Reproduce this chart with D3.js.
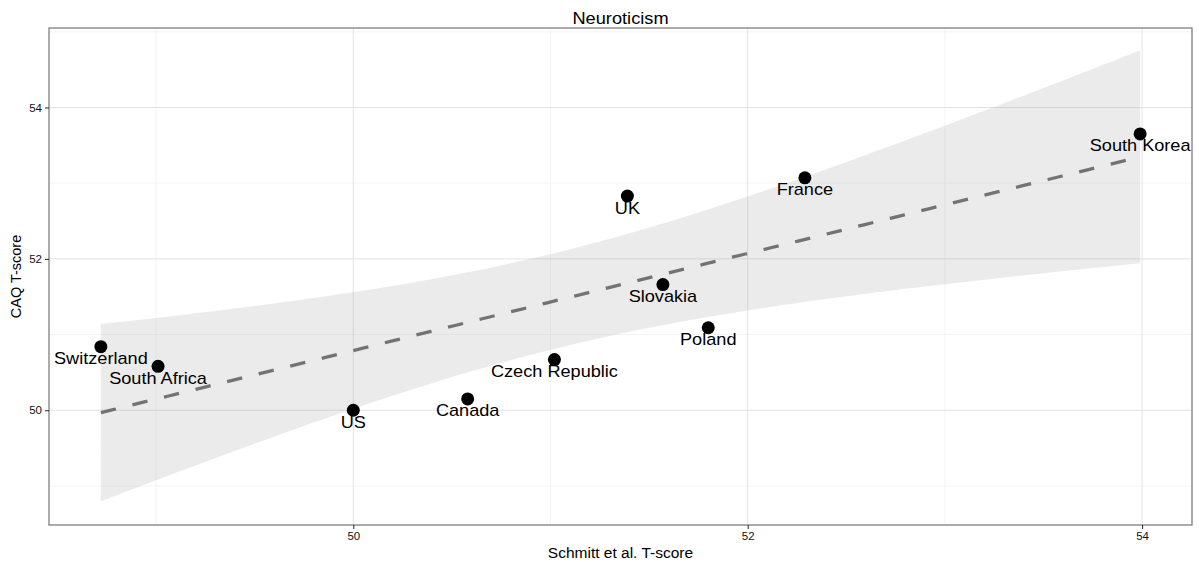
<!DOCTYPE html>
<html><head><meta charset="utf-8">
<script src="https://cdn.jsdelivr.net/npm/d3@7"></script>
<style>body{margin:0;background:#fff;} text{font-family:"Liberation Sans",Arial,sans-serif;}</style>
</head><body><svg id="c" width="1199" height="562"></svg>
<script>
const countries = ["Switzerland","South Africa","US","Canada","Czech Republic","UK","Slovakia","Poland","France","South Korea"];
const schmitt = [48.72,49.01,50.00,50.58,51.02,51.39,51.57,51.80,52.29,53.99];
const caq = [50.84,50.58,50.00,50.15,50.67,52.83,51.66,51.09,53.07,53.65];
const xTicks = [50,52,54];
const yTicks = [50,52,54];
const xMinor = [49,51,53];
const yMinor = [49,51,53,55];

const svg = d3.select("#c");
const L=49,R=1192,T=28,B=525;
const x = d3.scaleLinear().domain([48.457,54.253]).range([L,R]);
const y = d3.scaleLinear().domain([48.484,55.05]).range([B,T]);

// linear fit + 95% CI (as geom_smooth(method="lm"))
const n = schmitt.length;
const mx = d3.mean(schmitt), my = d3.mean(caq);
let sxx=0,sxy=0; for(let i=0;i<n;i++){sxx+=(schmitt[i]-mx)**2; sxy+=(schmitt[i]-mx)*(caq[i]-my);}
const b1 = sxy/sxx, b0 = my-b1*mx;
let sse=0; for(let i=0;i<n;i++){sse+=(caq[i]-b0-b1*schmitt[i])**2;}
const s = Math.sqrt(sse/(n-2)), tq = 2.306;
const xs = d3.range(80).map(i=>d3.min(schmitt)+(d3.max(schmitt)-d3.min(schmitt))*i/79);
const fit = xs.map(v=>{const f=b0+b1*v; const se=s*Math.sqrt(1/n+(v-mx)**2/sxx); return {x:v,f,lo:f-tq*se,hi:f+tq*se};});

// grid
const g = svg.append("g");
xMinor.forEach(v=>g.append("line").attr("x1",x(v)).attr("x2",x(v)).attr("y1",T).attr("y2",B).attr("stroke","#f4f4f4").attr("stroke-width",1));
yMinor.forEach(v=>g.append("line").attr("y1",y(v)).attr("y2",y(v)).attr("x1",L).attr("x2",R).attr("stroke","#f4f4f4").attr("stroke-width",1));
xTicks.forEach(v=>g.append("line").attr("x1",x(v)).attr("x2",x(v)).attr("y1",T).attr("y2",B).attr("stroke","#e3e3e3").attr("stroke-width",1));
yTicks.forEach(v=>g.append("line").attr("y1",y(v)).attr("y2",y(v)).attr("x1",L).attr("x2",R).attr("stroke","#e3e3e3").attr("stroke-width",1));

// band
svg.append("path").datum(fit).attr("fill","#999999").attr("fill-opacity",0.2)
  .attr("d",d3.area().x(d=>x(d.x)).y0(d=>y(d.lo)).y1(d=>y(d.hi)));
svg.append("path").datum(fit).attr("fill","none").attr("stroke","#737373").attr("stroke-width",3.3)
  .attr("stroke-dasharray","15.5,17")
  .attr("d",d3.line().x(d=>x(d.x)).y(d=>y(d.f)));

// points
svg.append("g").selectAll("circle").data(countries).join("circle")
  .attr("cx",(d,i)=>x(schmitt[i])).attr("cy",(d,i)=>y(caq[i])).attr("r",6.5).attr("fill","#000");
svg.append("g").selectAll("text").data(countries).join("text")
  .attr("transform",(d,i)=>`translate(${x(schmitt[i])},${y(caq[i])+17.5}) scale(1.08,1)`).attr("text-anchor","middle")
  .attr("font-size",16.8).attr("fill","#000").text(d=>d);

// border
svg.append("rect").attr("x",L).attr("y",T).attr("width",R-L).attr("height",B-T).attr("fill","none").attr("stroke","#7f7f7f").attr("stroke-width",1.3);

// axes
const fmt = d3.format("d");
const xa = svg.append("g").attr("transform",`translate(0,${B})`).call(d3.axisBottom(x).tickValues(xTicks).tickFormat(fmt).tickSize(4).tickSizeOuter(0).tickPadding(3));
const ya = svg.append("g").attr("transform",`translate(${L},0)`).call(d3.axisLeft(y).tickValues(yTicks).tickFormat(fmt).tickSize(4).tickSizeOuter(0).tickPadding(3));
[xa,ya].forEach(a=>{a.select(".domain").remove(); a.selectAll("text").attr("font-size",11.5).attr("fill","#111").style("font-family","'Liberation Sans',Arial,sans-serif"); a.selectAll("line").attr("stroke","#222");});

svg.append("text").attr("transform",`translate(${(L+R)/2},24) scale(1.06,1)`).attr("text-anchor","middle").attr("font-size",17.2).text("Neuroticism");
svg.append("text").attr("x",(L+R)/2).attr("y",558).attr("text-anchor","middle").attr("font-size",15.5).text("Schmitt et al. T-score");
svg.append("text").attr("transform",`translate(21,${(T+B)/2}) rotate(-90)`).attr("text-anchor","middle").attr("font-size",14.5).text("CAQ T-score");
</script></body></html>
